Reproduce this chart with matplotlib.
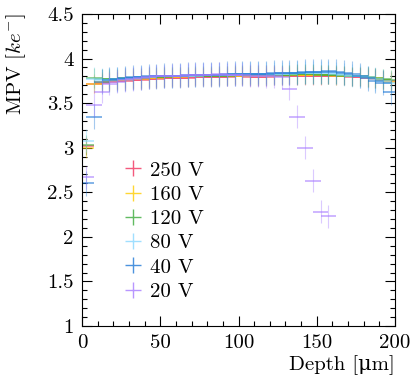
import numpy as np
import matplotlib
matplotlib.use('Agg')
import matplotlib.pyplot as plt
from matplotlib.ticker import MultipleLocator, FuncFormatter
from matplotlib.lines import Line2D

plt.rcParams['font.family'] = ['cmr10', 'DejaVu Serif']
plt.rcParams['mathtext.fontset'] = 'cm'
plt.rcParams['axes.formatter.use_mathtext'] = True

# depth bins (um), 5 um steps
depth = [2.5, 7.5, 12.5, 17.5, 22.5, 27.5, 32.5, 37.5, 42.5, 47.5,
         52.5, 57.5, 62.5, 67.5, 72.5, 77.5, 82.5, 87.5, 92.5, 97.5,
         102.5, 107.5, 112.5, 117.5, 122.5, 127.5, 132.5, 137.5, 142.5, 147.5,
         152.5, 157.5, 162.5, 167.5, 172.5, 177.5, 182.5, 187.5, 192.5, 197.5]

mpv_250 = [3.02, 3.71, 3.73, 3.74, 3.75, 3.75, 3.76, 3.76, 3.77, 3.77,
           3.78, 3.78, 3.78, 3.78, 3.79, 3.79, 3.79, 3.79, 3.79, 3.80,
           3.80, 3.79, 3.79, 3.79, 3.80, 3.80, 3.80, 3.80, 3.80, 3.80,
           3.80, 3.81, 3.80, 3.80, 3.79, 3.79, 3.78, 3.77, 3.76, 3.75]
mpv_160 = [3.00, 3.72, 3.74, 3.75, 3.76, 3.76, 3.77, 3.77, 3.78, 3.78,
           3.79, 3.79, 3.79, 3.80, 3.80, 3.80, 3.80, 3.81, 3.81, 3.81,
           3.81, 3.81, 3.81, 3.81, 3.81, 3.81, 3.82, 3.82, 3.82, 3.82,
           3.82, 3.82, 3.81, 3.81, 3.80, 3.80, 3.79, 3.78, 3.76, 3.74]
mpv_120 = [3.03, 3.78, 3.77, 3.77, 3.77, 3.78, 3.78, 3.78, 3.79, 3.79,
           3.79, 3.80, 3.80, 3.80, 3.81, 3.81, 3.81, 3.81, 3.81, 3.82,
           3.82, 3.82, 3.82, 3.82, 3.82, 3.82, 3.82, 3.83, 3.83, 3.83,
           3.82, 3.82, 3.82, 3.81, 3.80, 3.80, 3.79, 3.78, 3.77, 3.76]
mpv_80 = [3.08, 3.77, 3.76, 3.76, 3.77, 3.77, 3.78, 3.79, 3.79, 3.80,
          3.80, 3.80, 3.81, 3.81, 3.81, 3.82, 3.82, 3.82, 3.82, 3.82,
          3.83, 3.83, 3.83, 3.83, 3.83, 3.83, 3.83, 3.84, 3.84, 3.84,
          3.84, 3.84, 3.83, 3.82, 3.81, 3.80, 3.79, 3.77, 3.75, 3.73]
mpv_40 = [2.60, 3.35, 3.74, 3.76, 3.77, 3.78, 3.79, 3.79, 3.80, 3.80,
          3.81, 3.81, 3.81, 3.82, 3.82, 3.82, 3.82, 3.82, 3.83, 3.83,
          3.83, 3.83, 3.83, 3.83, 3.84, 3.84, 3.84, 3.84, 3.85, 3.85,
          3.85, 3.86, 3.85, 3.84, 3.83, 3.81, 3.78, 3.75, 3.73, 3.62]
depth_20 = depth[:32]
mpv_20 = [2.67, 3.48, 3.63, 3.72, 3.74, 3.76, 3.77, 3.78, 3.79, 3.80,
          3.80, 3.81, 3.81, 3.82, 3.82, 3.82, 3.82, 3.83, 3.82, 3.82,
          3.82, 3.81, 3.81, 3.80, 3.80, 3.79, 3.66, 3.35, 3.00, 2.63,
          2.28, 2.23]

labels = ['250 V', '160 V', '120 V', '80 V', '40 V', '20 V']
colors = ['#f2305c', '#ffcc00', '#3aaa3a', '#88d8ff', '#1f78d6', '#a77cff']
y_err = [0.10, 0.11, 0.11, 0.13, 0.14, 0.13]
series = [(depth, mpv_250), (depth, mpv_160), (depth, mpv_120),
          (depth, mpv_80), (depth, mpv_40), (depth_20, mpv_20)]

fig = plt.figure(figsize=(4.15, 3.91), dpi=100)
ax = fig.add_axes([0.1976, 0.1662, 0.7542, 0.7980])

handles = []
for (x, y), c, e, lab in zip(series, colors, y_err, labels):
    cont = ax.errorbar(x, y, xerr=5.0, yerr=e, fmt='none', ecolor=c,
                       elinewidth=0.9, alpha=0.45, capsize=0)
    xbars, ybars = cont.lines[2]
    xbars.set_linewidth(1.3)
    xbars.set_alpha(0.6)
    ybars.set_linewidth(0.8)
    ybars.set_alpha(0.4)
    handles.append(Line2D([], [], marker='+', ms=12, mew=1.0, ls='none',
                          color=c, alpha=0.8, label=lab))

ax.set_xlim(0, 200)
ax.set_ylim(1, 4.5)
ax.xaxis.set_major_locator(MultipleLocator(50))
ax.xaxis.set_minor_locator(MultipleLocator(10))
ax.yaxis.set_major_locator(MultipleLocator(0.5))
ax.yaxis.set_minor_locator(MultipleLocator(0.1))
ax.yaxis.set_major_formatter(FuncFormatter(lambda v, p: '%g' % v))
ax.xaxis.set_major_formatter(FuncFormatter(lambda v, p: '%g' % v))
ax.tick_params(which='both', direction='in', top=True, right=True, labelsize=15)
ax.tick_params(which='major', length=7, width=0.8, pad=6)
ax.tick_params(which='minor', length=3.5, width=0.8)

ax.set_xlabel('Depth [μm]', fontsize=15, loc='right', labelpad=2)
ax.set_ylabel(r'MPV [$ke^{-}$]', fontsize=15, loc='top', labelpad=14)

ax.legend(handles=handles, loc='upper left', bbox_to_anchor=(0.11, 0.555),
          frameon=False, fontsize=15, handlelength=0.8, handletextpad=0.4,
          labelspacing=0.27, borderaxespad=0)

fig.savefig('out.png', dpi=100)
